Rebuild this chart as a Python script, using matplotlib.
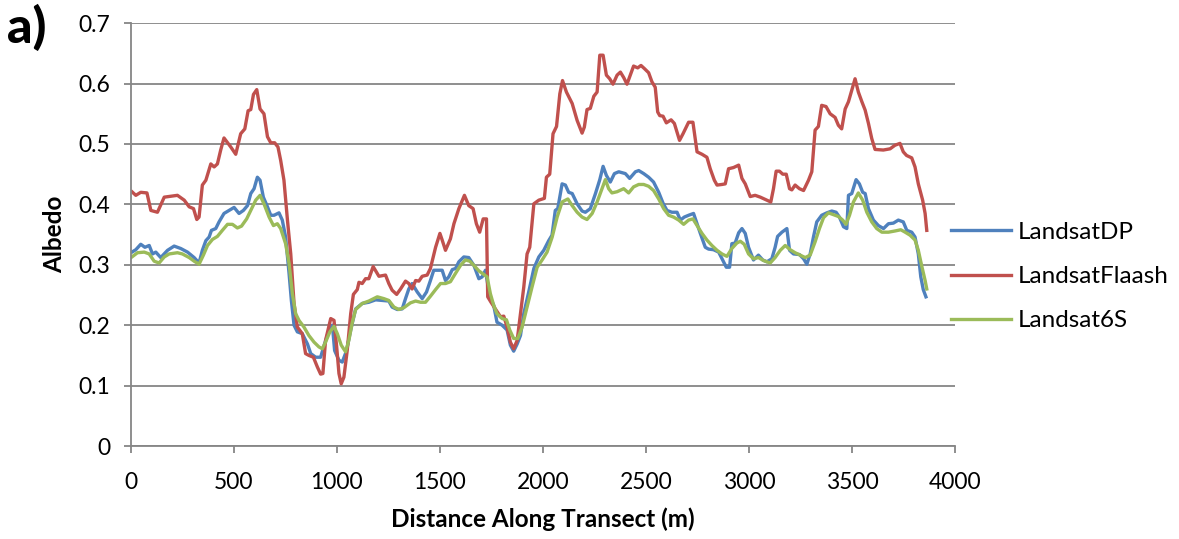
import matplotlib
matplotlib.use("Agg")
import matplotlib.pyplot as plt

plt.rcParams['font.family'] = ['Lato', 'DejaVu Sans']

# Albedo along the transect for the three correction methods
dp_dist = [5, 24, 48, 68, 89, 105, 121, 145, 178, 210, 242, 275, 307, 331, 347, 364, 380, 391,
           412, 428, 452, 477, 501, 525, 546, 566, 582, 598, 614, 627, 643, 663, 679, 695, 719,
           735, 751, 768, 779, 792, 808, 832, 857, 873, 897, 921, 940, 962, 978, 989, 1010, 1026,
           1047, 1067, 1091, 1123, 1155, 1188, 1220, 1252, 1268, 1293, 1317, 1333, 1349, 1365,
           1390, 1414, 1435, 1454, 1470, 1495, 1511, 1527, 1543, 1560, 1576, 1592, 1616, 1640,
           1665, 1689, 1705, 1721, 1742, 1761, 1777, 1802, 1826, 1842, 1858, 1875, 1891, 1907,
           1931, 1956, 1980, 2004, 2028, 2044, 2060, 2072, 2093, 2109, 2125, 2142, 2166, 2190,
           2206, 2230, 2255, 2276, 2292, 2308, 2327, 2347, 2368, 2400, 2421, 2449, 2465, 2489,
           2513, 2537, 2562, 2583, 2602, 2626, 2651, 2667, 2686, 2707, 2731, 2748, 2764, 2788,
           2804, 2828, 2853, 2874, 2890, 2906, 2917, 2933, 2950, 2966, 2982, 2998, 3022, 3046,
           3067, 3087, 3111, 3127, 3139, 3160, 3184, 3197, 3216, 3245, 3265, 3281, 3297, 3313,
           3329, 3353, 3378, 3402, 3423, 3439, 3459, 3475, 3483, 3499, 3520, 3536, 3552, 3564,
           3580, 3604, 3628, 3653, 3677, 3701, 3725, 3749, 3766, 3790, 3806, 3822, 3834, 3846, 3859]
dp_albedo = [0.321, 0.325, 0.334, 0.329, 0.332, 0.318, 0.321, 0.312, 0.324, 0.331, 0.327, 0.321,
             0.312, 0.303, 0.324, 0.340, 0.346, 0.357, 0.360, 0.371, 0.385, 0.390, 0.395, 0.385,
             0.390, 0.398, 0.418, 0.426, 0.445, 0.440, 0.412, 0.396, 0.382, 0.382, 0.386, 0.374,
             0.346, 0.285, 0.241, 0.200, 0.189, 0.186, 0.169, 0.153, 0.147, 0.147, 0.169, 0.192,
             0.200, 0.158, 0.142, 0.139, 0.158, 0.192, 0.227, 0.236, 0.238, 0.242, 0.241, 0.240,
             0.230, 0.226, 0.227, 0.244, 0.260, 0.269, 0.255, 0.244, 0.255, 0.274, 0.291, 0.291,
             0.291, 0.274, 0.280, 0.292, 0.294, 0.305, 0.313, 0.312, 0.299, 0.277, 0.280, 0.291,
             0.247, 0.233, 0.205, 0.200, 0.192, 0.167, 0.157, 0.169, 0.183, 0.219, 0.255, 0.294,
             0.313, 0.324, 0.340, 0.349, 0.390, 0.393, 0.434, 0.432, 0.420, 0.418, 0.401, 0.389,
             0.387, 0.393, 0.418, 0.441, 0.463, 0.448, 0.437, 0.451, 0.454, 0.451, 0.443, 0.454,
             0.456, 0.451, 0.445, 0.437, 0.420, 0.402, 0.390, 0.387, 0.387, 0.374, 0.379, 0.382,
             0.385, 0.368, 0.352, 0.329, 0.326, 0.325, 0.321, 0.307, 0.296, 0.296, 0.335, 0.336,
             0.353, 0.360, 0.352, 0.329, 0.308, 0.316, 0.308, 0.305, 0.310, 0.329, 0.347, 0.354,
             0.360, 0.324, 0.318, 0.317, 0.310, 0.301, 0.318, 0.346, 0.371, 0.382, 0.386, 0.389,
             0.387, 0.379, 0.363, 0.360, 0.415, 0.418, 0.441, 0.434, 0.420, 0.418, 0.393, 0.374,
             0.365, 0.360, 0.368, 0.369, 0.374, 0.371, 0.357, 0.354, 0.346, 0.318, 0.280, 0.259,
             0.247]

flaash_dist = [5, 24, 48, 78, 97, 129, 162, 226, 259, 283, 304, 320, 331, 347, 364, 388, 404, 420,
               436, 452, 485, 509, 533, 553, 569, 582, 595, 611, 627, 646, 663, 679, 698, 714,
               727, 743, 760, 776, 792, 808, 832, 848, 864, 886, 905, 921, 932, 945, 970, 986,
               999, 1010, 1021, 1034, 1050, 1067, 1080, 1099, 1107, 1123, 1139, 1155, 1176, 1188,
               1204, 1236, 1252, 1268, 1290, 1309, 1333, 1349, 1365, 1382, 1398, 1414, 1438, 1454,
               1479, 1500, 1511, 1527, 1551, 1568, 1592, 1619, 1640, 1661, 1677, 1693, 1710, 1726,
               1732, 1748, 1769, 1794, 1810, 1826, 1842, 1858, 1875, 1891, 1907, 1923, 1936, 1956,
               1980, 2007, 2017, 2033, 2049, 2066, 2082, 2095, 2114, 2142, 2166, 2190, 2201, 2214,
               2230, 2247, 2263, 2276, 2292, 2308, 2324, 2340, 2360, 2376, 2392, 2408, 2424, 2440,
               2460, 2476, 2492, 2513, 2529, 2545, 2557, 2567, 2583, 2599, 2622, 2638, 2663, 2680,
               2707, 2728, 2748, 2772, 2796, 2812, 2832, 2845, 2869, 2885, 2901, 2925, 2950, 2966,
               2982, 3006, 3030, 3055, 3087, 3106, 3119, 3132, 3148, 3164, 3181, 3197, 3208, 3224,
               3245, 3265, 3289, 3305, 3321, 3337, 3353, 3374, 3394, 3418, 3434, 3450, 3467, 3483,
               3499, 3515, 3531, 3548, 3564, 3580, 3596, 3612, 3652, 3685, 3709, 3733, 3749, 3765,
               3790, 3806, 3822, 3843, 3855, 3863]
flaash_albedo = [0.421, 0.415, 0.420, 0.419, 0.390, 0.387, 0.412, 0.415, 0.407, 0.396, 0.393,
                 0.375, 0.379, 0.432, 0.440, 0.467, 0.462, 0.467, 0.490, 0.510, 0.495, 0.483,
                 0.517, 0.525, 0.555, 0.557, 0.582, 0.590, 0.558, 0.550, 0.512, 0.502, 0.502,
                 0.495, 0.473, 0.440, 0.374, 0.318, 0.236, 0.197, 0.186, 0.153, 0.150, 0.147,
                 0.131, 0.119, 0.120, 0.175, 0.211, 0.208, 0.164, 0.120, 0.103, 0.114, 0.158,
                 0.219, 0.251, 0.259, 0.271, 0.269, 0.277, 0.277, 0.297, 0.290, 0.281, 0.283,
                 0.269, 0.258, 0.251, 0.260, 0.273, 0.269, 0.260, 0.274, 0.273, 0.281, 0.283,
                 0.294, 0.329, 0.352, 0.341, 0.324, 0.343, 0.368, 0.393, 0.415, 0.398, 0.393,
                 0.368, 0.354, 0.376, 0.376, 0.247, 0.238, 0.227, 0.214, 0.215, 0.197, 0.172,
                 0.161, 0.175, 0.219, 0.263, 0.318, 0.329, 0.401, 0.407, 0.410, 0.445, 0.450,
                 0.517, 0.529, 0.583, 0.605, 0.586, 0.567, 0.539, 0.518, 0.528, 0.557, 0.559,
                 0.579, 0.586, 0.647, 0.647, 0.614, 0.608, 0.599, 0.614, 0.619, 0.610, 0.599,
                 0.614, 0.629, 0.626, 0.630, 0.625, 0.618, 0.603, 0.594, 0.553, 0.547, 0.546,
                 0.535, 0.540, 0.534, 0.506, 0.517, 0.536, 0.536, 0.487, 0.483, 0.478, 0.459,
                 0.440, 0.432, 0.433, 0.434, 0.459, 0.461, 0.465, 0.443, 0.434, 0.413, 0.415,
                 0.412, 0.407, 0.404, 0.426, 0.455, 0.455, 0.450, 0.450, 0.426, 0.424, 0.432,
                 0.426, 0.423, 0.440, 0.454, 0.523, 0.529, 0.564, 0.562, 0.550, 0.544, 0.531,
                 0.525, 0.558, 0.570, 0.589, 0.608, 0.586, 0.570, 0.556, 0.534, 0.509, 0.491,
                 0.490, 0.492, 0.498, 0.501, 0.487, 0.481, 0.477, 0.462, 0.434, 0.407, 0.385,
                 0.357]

s6_dist = [5, 32, 65, 89, 113, 137, 162, 186, 226, 250, 283, 307, 331, 352, 372, 396, 420, 444,
           469, 493, 517, 537, 562, 582, 606, 627, 646, 671, 692, 711, 727, 751, 768, 784, 800,
           816, 840, 864, 889, 913, 929, 945, 966, 986, 1002, 1021, 1042, 1058, 1075, 1091, 1123,
           1155, 1196, 1228, 1252, 1277, 1301, 1325, 1357, 1382, 1406, 1430, 1454, 1479, 1503,
           1527, 1551, 1576, 1600, 1624, 1645, 1665, 1689, 1713, 1729, 1745, 1761, 1777, 1802,
           1823, 1839, 1858, 1878, 1899, 1923, 1947, 1972, 1996, 2020, 2045, 2069, 2093, 2121,
           2142, 2166, 2190, 2214, 2239, 2263, 2287, 2303, 2319, 2335, 2360, 2392, 2416, 2440,
           2465, 2489, 2513, 2537, 2562, 2586, 2610, 2634, 2659, 2683, 2707, 2728, 2748, 2772,
           2796, 2820, 2845, 2869, 2893, 2917, 2941, 2958, 2977, 2998, 3022, 3046, 3071, 3103,
           3127, 3152, 3176, 3200, 3224, 3249, 3273, 3297, 3321, 3342, 3362, 3386, 3410, 3434,
           3455, 3471, 3488, 3507, 3531, 3552, 3572, 3596, 3620, 3645, 3677, 3709, 3737, 3758,
           3782, 3806, 3822, 3838, 3855, 3863]
s6_albedo = [0.313, 0.320, 0.321, 0.318, 0.306, 0.303, 0.313, 0.318, 0.320, 0.318, 0.312, 0.306,
             0.301, 0.316, 0.332, 0.342, 0.347, 0.357, 0.367, 0.367, 0.361, 0.364, 0.376, 0.390,
             0.407, 0.415, 0.401, 0.379, 0.365, 0.368, 0.360, 0.335, 0.302, 0.252, 0.219, 0.208,
             0.197, 0.183, 0.172, 0.164, 0.161, 0.172, 0.189, 0.198, 0.186, 0.167, 0.156, 0.175,
             0.205, 0.226, 0.236, 0.240, 0.247, 0.244, 0.241, 0.230, 0.226, 0.229, 0.237, 0.240,
             0.238, 0.238, 0.248, 0.259, 0.269, 0.269, 0.272, 0.286, 0.299, 0.308, 0.306, 0.299,
             0.290, 0.284, 0.280, 0.252, 0.233, 0.219, 0.211, 0.209, 0.192, 0.178, 0.178, 0.197,
             0.230, 0.263, 0.296, 0.308, 0.321, 0.346, 0.379, 0.404, 0.409, 0.398, 0.387, 0.379,
             0.375, 0.385, 0.404, 0.426, 0.441, 0.426, 0.419, 0.421, 0.426, 0.419, 0.429, 0.433,
             0.433, 0.430, 0.423, 0.409, 0.393, 0.382, 0.379, 0.374, 0.367, 0.374, 0.376, 0.365,
             0.352, 0.341, 0.332, 0.324, 0.318, 0.314, 0.327, 0.336, 0.339, 0.334, 0.318, 0.310,
             0.312, 0.307, 0.303, 0.312, 0.324, 0.332, 0.325, 0.320, 0.316, 0.312, 0.316, 0.338,
             0.360, 0.378, 0.386, 0.383, 0.380, 0.374, 0.367, 0.382, 0.404, 0.419, 0.407, 0.387,
             0.371, 0.360, 0.354, 0.354, 0.356, 0.358, 0.354, 0.349, 0.341, 0.324, 0.299, 0.274,
             0.260]

series = [
    ("LandsatDP", dp_dist, dp_albedo, "#4F81BD"),
    ("LandsatFlaash", flaash_dist, flaash_albedo, "#C0504D"),
    ("Landsat6S", s6_dist, s6_albedo, "#9BBB59"),
]

grid_col = "#868686"

fig = plt.figure(figsize=(11.79, 5.39), dpi=100)
ax = fig.add_axes([0.111, 0.1725, 0.699, 0.7845])

for name, xs, ys, col in series:
    ax.plot(xs, ys, color=col, lw=2.4, label=name, solid_joinstyle="round")

ax.set_xlim(0, 4000)
ax.set_ylim(0, 0.7)
ax.set_xticks(range(0, 4001, 500))
ax.set_yticks([i / 10 for i in range(8)])
ax.set_yticklabels(["0"] + ["%.1f" % (i / 10) for i in range(1, 8)])
ax.yaxis.grid(True, color=grid_col, lw=1.3)
ax.set_axisbelow(True)

for side in ("top", "right"):
    ax.spines[side].set_visible(False)
for side in ("left", "bottom"):
    ax.spines[side].set_color(grid_col)
    ax.spines[side].set_linewidth(1.3)

ax.tick_params(axis="both", colors=grid_col, labelcolor="black", labelsize=16.5,
               direction="out", length=5, width=1.3)
ax.tick_params(axis="x", pad=14)
ax.tick_params(axis="y", pad=10)

ax.set_xlabel("Distance Along Transect (m)", fontsize=17.5, fontweight="bold", labelpad=10)
ax.set_ylabel("Albedo", fontsize=17.5, fontweight="bold", labelpad=9)

fig.text(0.006, 0.95, "a)", fontsize=36, fontweight="black", va="center", ha="left")

ax.legend(loc="center left", bbox_to_anchor=(0.798, 0.487), bbox_transform=fig.transFigure,
          frameon=False, fontsize=17.5, handlelength=2.5, handletextpad=0.25, labelspacing=0.95,
          borderaxespad=0)

fig.savefig("out.png", dpi=100)
